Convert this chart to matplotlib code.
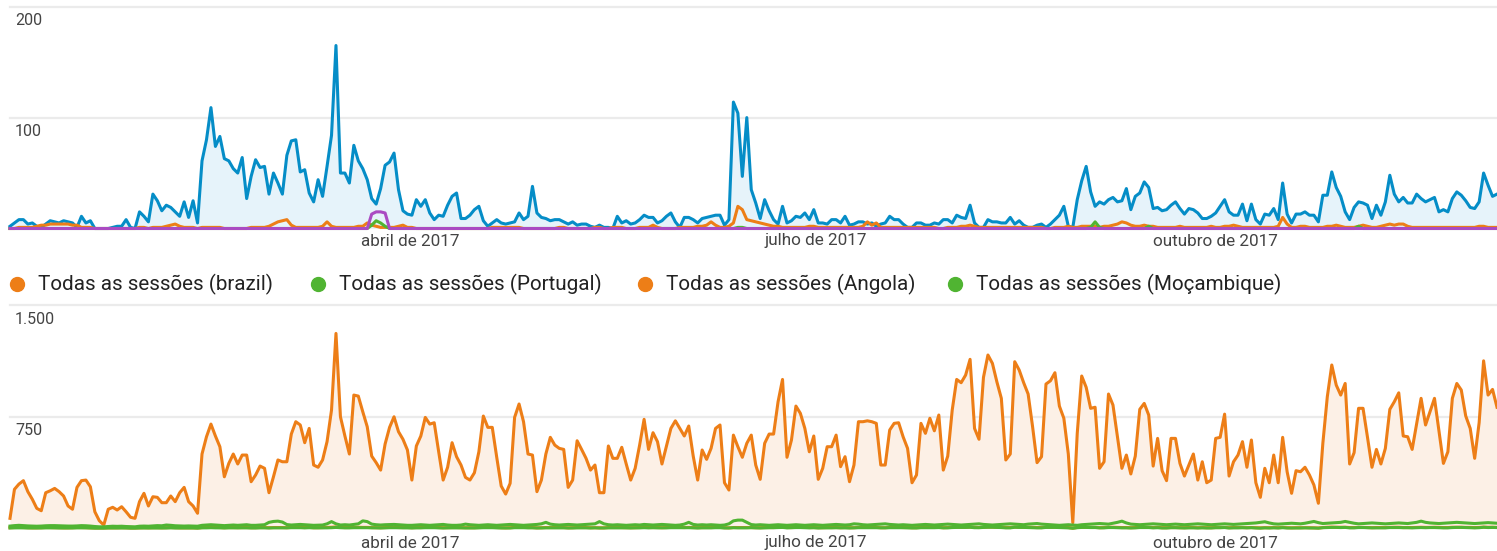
import numpy as np
import pandas as pd
import matplotlib
matplotlib.use('Agg')
import matplotlib.pyplot as plt
from matplotlib.lines import Line2D
from matplotlib.transforms import blended_transform_factory, offset_copy

plt.rcParams['font.family'] = ['Roboto', 'DejaVu Sans']

dates = pd.date_range('2017-01-01', periods=334, freq='D')

# ---- top chart (sessions, small property) ----
top_blue = [
    2, 5, 8, 8, 4, 5, 2, 1, 4, 7,
    6, 5, 7, 6, 5, 1, 11, 5, 7, 0,
    0, 0, 0, 1, 2, 2, 8, 1, 0, 15,
    11, 6, 31, 25, 16, 21, 19, 15, 11, 24,
    10, 25, 5, 61, 80, 109, 74, 83, 63, 61,
    54, 50, 64, 27, 47, 62, 55, 56, 31, 50,
    41, 31, 66, 79, 80, 51, 53, 32, 24, 44,
    29, 56, 84, 165, 50, 50, 41, 75, 61, 54,
    44, 27, 22, 36, 57, 60, 68, 35, 16, 13,
    12, 26, 20, 26, 14, 8, 12, 11, 21, 29,
    32, 9, 9, 12, 17, 20, 7, 2, 5, 8,
    5, 4, 5, 6, 14, 8, 11, 38, 14, 10,
    9, 7, 8, 8, 6, 4, 6, 3, 4, 4,
    2, 1, 3, 1, 1, 0, 11, 5, 7, 4,
    5, 8, 12, 10, 10, 5, 7, 11, 14, 6,
    1, 10, 10, 8, 5, 9, 10, 11, 12, 12,
    3, 8, 114, 104, 47, 100, 35, 23, 9, 26,
    16, 8, 4, 20, 5, 7, 11, 10, 14, 8,
    17, 5, 5, 4, 8, 8, 5, 11, 3, 4,
    6, 6, 4, 5, 2, 4, 5, 11, 8, 8,
    4, 1, 1, 5, 5, 3, 3, 5, 4, 8,
    8, 5, 12, 10, 9, 21, 5, 1, 1, 8,
    6, 6, 5, 5, 10, 4, 7, 3, 1, 1,
    3, 4, 1, 4, 8, 12, 20, 2, 1, 26,
    43, 56, 33, 20, 24, 22, 26, 28, 24, 25,
    36, 17, 29, 32, 42, 37, 18, 19, 16, 17,
    21, 24, 18, 13, 18, 17, 14, 9, 9, 11,
    14, 20, 26, 15, 12, 12, 22, 7, 22, 8,
    4, 13, 12, 18, 8, 41, 13, 5, 13, 13,
    15, 12, 12, 6, 30, 30, 51, 37, 29, 15,
    8, 19, 24, 23, 21, 9, 21, 12, 24, 48,
    31, 24, 28, 23, 23, 31, 27, 24, 26, 28,
    15, 17, 15, 27, 33, 30, 25, 19, 18, 24,
    50, 39, 29, 31,
]
top_orange = [
    0, 0, 1, 1, 1, 1, 2, 3, 3, 4,
    4, 4, 4, 4, 3, 3, 1, 1, 1, 0,
    0, 0, 0, 0, 0, 0, 0, 0, 0, 1,
    1, 0, 1, 1, 1, 2, 3, 4, 2, 1,
    1, 1, 0, 1, 1, 1, 1, 1, 0, 0,
    0, 0, 0, 0, 1, 1, 1, 1, 2, 4,
    6, 7, 8, 3, 1, 1, 1, 1, 1, 1,
    2, 6, 2, 1, 1, 1, 1, 1, 2, 2,
    5, 3, 2, 1, 1, 1, 1, 2, 3, 1,
    1, 0, 0, 0, 0, 0, 0, 0, 0, 0,
    0, 0, 0, 0, 0, 0, 0, 0, 1, 1,
    1, 1, 1, 1, 1, 0, 0, 0, 0, 0,
    0, 0, 0, 1, 1, 0, 0, 0, 0, 0,
    0, 1, 1, 0, 0, 1, 1, 1, 0, 0,
    0, 1, 1, 1, 3, 1, 0, 0, 0, 0,
    1, 1, 1, 1, 2, 2, 3, 6, 3, 1,
    1, 2, 5, 20, 17, 8, 7, 6, 5, 4,
    3, 2, 2, 1, 1, 1, 1, 1, 1, 2,
    2, 1, 1, 1, 1, 1, 1, 1, 1, 1,
    1, 2, 6, 3, 5, 1, 1, 1, 1, 1,
    1, 1, 1, 1, 1, 1, 1, 1, 0, 0,
    1, 1, 1, 2, 2, 3, 2, 1, 1, 1,
    1, 1, 1, 1, 1, 1, 1, 1, 1, 1,
    1, 1, 0, 0, 1, 1, 1, 2, 1, 1,
    2, 2, 2, 2, 1, 2, 2, 3, 4, 6,
    5, 3, 2, 2, 3, 2, 2, 1, 1, 1,
    1, 1, 2, 1, 1, 1, 1, 1, 1, 2,
    1, 1, 2, 2, 3, 2, 1, 1, 1, 1,
    1, 1, 1, 1, 2, 10, 4, 1, 1, 2,
    2, 1, 1, 1, 1, 2, 2, 3, 2, 1,
    1, 1, 2, 3, 2, 1, 1, 2, 3, 4,
    3, 4, 4, 2, 1, 1, 1, 1, 1, 1,
    1, 1, 1, 1, 1, 1, 1, 1, 1, 2,
    2, 1, 1, 1,
]
top_green = [
    0, 0, 0, 0, 0, 0, 0, 0, 0, 0,
    0, 0, 0, 0, 0, 0, 0, 0, 0, 0,
    0, 0, 0, 0, 0, 0, 0, 0, 0, 0,
    0, 0, 0, 0, 0, 0, 0, 0, 0, 0,
    0, 0, 0, 0, 0, 0, 0, 0, 0, 0,
    0, 0, 0, 0, 0, 0, 0, 0, 0, 0,
    0, 0, 0, 0, 0, 0, 0, 0, 0, 0,
    0, 0, 0, 0, 0, 0, 0, 0, 0, 0,
    0, 3, 7, 5, 2, 0, 0, 0, 0, 0,
    0, 0, 0, 0, 0, 0, 0, 0, 0, 0,
    0, 0, 0, 0, 0, 0, 0, 0, 0, 0,
    0, 0, 0, 0, 0, 0, 0, 0, 0, 0,
    0, 0, 0, 0, 0, 0, 0, 0, 0, 0,
    0, 0, 0, 0, 0, 0, 0, 0, 0, 0,
    0, 0, 0, 0, 0, 0, 0, 0, 0, 0,
    0, 0, 0, 0, 0, 0, 0, 0, 0, 0,
    0, 0, 0, 1, 1, 0, 0, 0, 0, 0,
    0, 0, 0, 0, 0, 0, 0, 0, 0, 0,
    0, 0, 0, 0, 0, 0, 0, 0, 0, 0,
    0, 0, 0, 0, 0, 0, 0, 0, 0, 0,
    0, 0, 0, 0, 0, 0, 0, 0, 0, 0,
    0, 0, 0, 0, 0, 0, 0, 0, 0, 0,
    0, 0, 0, 0, 0, 0, 0, 0, 0, 0,
    0, 0, 0, 0, 0, 0, 0, 0, 0, 0,
    0, 0, 1, 6, 1, 0, 0, 0, 0, 0,
    0, 0, 0, 0, 0, 2, 0, 0, 0, 0,
    0, 0, 0, 0, 0, 0, 0, 0, 0, 0,
    0, 0, 0, 0, 0, 0, 0, 0, 0, 0,
    0, 0, 0, 0, 0, 0, 0, 0, 0, 0,
    0, 0, 0, 0, 0, 0, 0, 0, 0, 0,
    0, 0, 2, 0, 0, 0, 0, 0, 0, 0,
    0, 0, 0, 0, 0, 0, 0, 0, 0, 0,
    0, 0, 0, 0, 0, 0, 0, 0, 0, 0,
    0, 0, 0, 0,
]
top_purple = [
    0, 0, 0, 0, 0, 0, 0, 0, 0, 0,
    0, 0, 0, 0, 0, 0, 0, 0, 0, 0,
    0, 0, 0, 0, 0, 0, 0, 0, 0, 0,
    0, 0, 0, 0, 0, 0, 0, 0, 0, 0,
    0, 0, 0, 0, 0, 0, 0, 0, 0, 0,
    0, 0, 0, 0, 0, 0, 0, 0, 0, 0,
    0, 0, 0, 0, 0, 0, 0, 0, 0, 0,
    0, 0, 0, 0, 0, 0, 0, 0, 0, 0,
    0, 13, 15, 15, 14, 0, 0, 0, 0, 0,
    0, 0, 0, 0, 0, 0, 0, 0, 0, 0,
    0, 0, 0, 0, 0, 0, 0, 0, 0, 0,
    0, 0, 0, 0, 0, 0, 0, 0, 0, 0,
    0, 0, 0, 0, 0, 0, 0, 0, 0, 0,
    0, 0, 0, 0, 0, 0, 0, 0, 0, 0,
    0, 0, 0, 0, 0, 0, 0, 0, 0, 0,
    0, 0, 0, 0, 0, 0, 0, 0, 0, 0,
    0, 0, 0, 0, 0, 0, 0, 0, 0, 0,
    0, 0, 0, 0, 0, 0, 0, 0, 0, 0,
    0, 0, 0, 0, 0, 0, 0, 0, 0, 0,
    0, 0, 0, 0, 0, 0, 0, 0, 0, 0,
    0, 0, 0, 0, 0, 0, 0, 0, 0, 0,
    0, 0, 0, 0, 0, 0, 0, 0, 0, 0,
    0, 0, 0, 0, 0, 0, 0, 0, 0, 0,
    0, 0, 0, 0, 0, 0, 0, 0, 0, 0,
    0, 0, 0, 0, 0, 0, 0, 0, 0, 0,
    0, 0, 0, 0, 0, 0, 0, 0, 0, 0,
    0, 0, 0, 0, 0, 0, 0, 0, 0, 0,
    0, 0, 0, 0, 0, 0, 0, 0, 0, 0,
    0, 0, 0, 0, 0, 0, 0, 0, 0, 0,
    0, 0, 0, 0, 0, 0, 0, 0, 0, 0,
    0, 0, 0, 0, 0, 0, 0, 0, 0, 0,
    0, 0, 0, 0, 0, 0, 0, 0, 0, 0,
    0, 0, 0, 0, 0, 0, 0, 0, 0, 0,
    0, 0, 0, 0,
]

# ---- bottom chart: "Todas as sessões" per country ----
brazil = [
    67, 262, 297, 320, 246, 195, 134, 118, 239, 252,
    268, 246, 217, 150, 128, 275, 320, 324, 279, 111,
    51, 22, 128, 141, 123, 145, 111, 74, 67, 179,
    235, 150, 212, 208, 172, 172, 217, 179, 239, 275,
    179, 150, 101, 499, 615, 700, 620, 548, 346, 436,
    499, 432, 492, 492, 313, 358, 418, 403, 239, 346,
    459, 447, 447, 633, 716, 694, 575, 671, 425, 410,
    459, 582, 794, 1309, 749, 620, 499, 895, 888, 783,
    682, 485, 441, 391, 566, 678, 749, 649, 598, 526,
    324, 553, 620, 745, 700, 709, 514, 324, 410, 575,
    481, 425, 342, 324, 373, 514, 754, 678, 678, 477,
    284, 230, 302, 745, 835, 716, 499, 492, 246, 324,
    499, 611, 559, 537, 530, 275, 324, 588, 530, 470,
    391, 425, 239, 239, 553, 470, 470, 544, 432, 324,
    403, 559, 732, 530, 642, 582, 432, 553, 671, 722,
    671, 620, 687, 485, 324, 526, 463, 537, 671, 694,
    306, 257, 626, 548, 477, 571, 626, 425, 329, 571,
    633, 633, 850, 1000, 477, 593, 821, 772, 671, 514,
    620, 329, 403, 548, 548, 626, 414, 481, 313, 425,
    716, 716, 722, 716, 705, 425, 425, 660, 705, 709,
    615, 537, 306, 358, 705, 638, 739, 655, 761, 391,
    485, 794, 1000, 978, 1029, 1135, 671, 598, 1014, 1164,
    1108, 984, 873, 459, 499, 1119, 1063, 978, 902, 682,
    441, 481, 969, 991, 1045, 821, 739, 499, 38, 638,
    1023, 947, 806, 813, 403, 447, 902, 828, 615, 403,
    492, 365, 485, 799, 839, 761, 418, 604, 387, 320,
    604, 604, 436, 351, 425, 499, 324, 447, 306, 324,
    604, 611, 767, 351, 447, 492, 582, 410, 593, 306,
    208, 403, 306, 492, 306, 611, 380, 235, 387, 380,
    410, 358, 291, 168, 571, 884, 1097, 962, 895, 973,
    432, 508, 806, 806, 611, 410, 530, 432, 537, 799,
    850, 910, 620, 615, 530, 700, 873, 694, 783, 873,
    655, 436, 514, 873, 973, 929, 754, 671, 470, 709,
    1125, 895, 933, 813,
]
portugal = [
    15, 18, 20, 18, 16, 15, 14, 15, 17, 18,
    18, 17, 16, 15, 15, 16, 18, 17, 15, 12,
    10, 10, 12, 14, 13, 14, 12, 11, 10, 14,
    15, 14, 16, 18, 17, 22, 20, 17, 16, 15,
    16, 15, 14, 20, 22, 24, 22, 20, 18, 20,
    22, 20, 22, 24, 20, 20, 22, 24, 40, 46,
    48, 42, 25, 22, 24, 26, 24, 22, 20, 21,
    22, 30, 45, 30, 22, 24, 22, 26, 30, 50,
    45, 28, 24, 22, 24, 25, 26, 24, 22, 20,
    20, 22, 24, 22, 20, 22, 24, 26, 22, 20,
    20, 22, 28, 24, 22, 20, 22, 24, 22, 20,
    22, 24, 26, 24, 22, 20, 22, 24, 26, 30,
    40, 28, 24, 22, 24, 26, 24, 22, 24, 26,
    28, 30, 45, 30, 24, 22, 24, 22, 20, 22,
    24, 22, 26, 24, 22, 24, 26, 24, 22, 20,
    22, 28, 40, 26, 22, 24, 22, 24, 22, 20,
    22, 30, 50, 55, 55, 40, 25, 22, 24, 22,
    20, 22, 24, 22, 20, 22, 24, 22, 20, 22,
    24, 22, 20, 22, 24, 26, 24, 22, 24, 30,
    28, 24, 22, 24, 26, 28, 30, 26, 24, 22,
    24, 22, 20, 22, 24, 26, 24, 22, 24, 26,
    28, 26, 24, 22, 24, 26, 28, 30, 26, 24,
    22, 24, 26, 28, 30, 28, 26, 24, 28, 30,
    32, 28, 26, 24, 22, 20, 22, 24, 22, 20,
    24, 26, 28, 30, 32, 30, 28, 34, 40, 48,
    36, 28, 26, 24, 26, 28, 30, 28, 26, 24,
    26, 28, 26, 24, 26, 28, 30, 28, 26, 24,
    26, 28, 30, 28, 26, 28, 30, 32, 34, 36,
    40, 44, 36, 30, 28, 30, 32, 34, 32, 30,
    34, 40, 46, 38, 32, 34, 36, 38, 40, 46,
    40, 34, 30, 32, 34, 36, 34, 32, 30, 32,
    34, 36, 34, 32, 36, 40, 48, 40, 36, 34,
    32, 34, 36, 38, 40, 38, 36, 34, 32, 34,
    36, 38, 36, 34,
]
angola = [
    4, 5, 6, 5, 4, 3, 3, 4, 5, 5,
    4, 4, 3, 3, 4, 5, 5, 4, 3, 2,
    2, 2, 3, 3, 3, 4, 3, 2, 2, 3,
    4, 3, 4, 4, 3, 4, 5, 4, 3, 3,
    3, 3, 2, 5, 6, 7, 6, 5, 4, 5,
    5, 4, 5, 5, 4, 4, 5, 5, 4, 5,
    5, 5, 4, 6, 7, 6, 5, 6, 4, 4,
    5, 6, 7, 9, 6, 5, 5, 7, 7, 6,
    6, 5, 4, 4, 5, 6, 6, 5, 5, 5,
    4, 5, 5, 6, 6, 6, 5, 4, 4, 5,
    5, 4, 4, 4, 4, 5, 6, 6, 6, 5,
    4, 3, 4, 6, 6, 6, 5, 5, 3, 4,
    5, 5, 5, 5, 5, 3, 4, 5, 5, 5,
    4, 4, 3, 3, 5, 5, 5, 5, 4, 4,
    4, 5, 6, 5, 5, 5, 4, 5, 6, 6,
    6, 5, 6, 5, 4, 5, 5, 5, 6, 6,
    4, 3, 5, 5, 5, 5, 5, 4, 4, 5,
    5, 5, 6, 7, 5, 5, 6, 6, 6, 5,
    5, 4, 4, 5, 5, 5, 4, 5, 4, 4,
    6, 6, 6, 6, 6, 4, 4, 6, 6, 6,
    5, 5, 4, 4, 6, 6, 6, 6, 6, 4,
    5, 6, 7, 7, 7, 8, 6, 5, 7, 8,
    8, 7, 7, 5, 5, 8, 8, 7, 7, 6,
    5, 5, 7, 7, 8, 6, 6, 5, 1, 6,
    7, 7, 6, 6, 4, 5, 7, 7, 6, 5,
    5, 4, 5, 6, 7, 6, 5, 6, 4, 4,
    5, 5, 4, 4, 5, 5, 4, 5, 4, 4,
    5, 5, 6, 4, 5, 5, 5, 4, 5, 4,
    3, 4, 4, 5, 4, 6, 4, 3, 4, 4,
    4, 4, 3, 2, 5, 7, 8, 7, 7, 7,
    5, 5, 6, 6, 5, 4, 5, 5, 5, 6,
    7, 7, 5, 5, 5, 6, 7, 6, 6, 7,
    6, 5, 5, 7, 7, 7, 6, 6, 5, 6,
    8, 7, 7, 6,
]
mocambique = [
    2, 3, 3, 3, 2, 2, 2, 2, 3, 3,
    3, 2, 2, 2, 2, 3, 3, 3, 2, 1,
    1, 1, 2, 2, 2, 2, 2, 1, 1, 2,
    2, 2, 2, 2, 2, 2, 3, 2, 2, 2,
    2, 2, 1, 3, 3, 4, 3, 3, 2, 3,
    3, 3, 3, 3, 2, 2, 3, 3, 2, 3,
    3, 3, 3, 4, 4, 4, 3, 4, 3, 3,
    3, 3, 4, 6, 4, 3, 3, 4, 4, 4,
    4, 3, 3, 2, 3, 4, 4, 4, 3, 3,
    2, 3, 3, 4, 4, 4, 3, 2, 3, 3,
    3, 3, 2, 2, 2, 3, 4, 4, 4, 3,
    2, 2, 2, 4, 4, 4, 3, 3, 2, 2,
    3, 3, 3, 3, 3, 2, 2, 3, 3, 3,
    2, 3, 2, 2, 3, 3, 3, 3, 3, 2,
    3, 3, 4, 3, 4, 3, 3, 3, 4, 4,
    4, 4, 4, 3, 2, 3, 3, 3, 4, 4,
    2, 2, 4, 3, 3, 3, 4, 3, 2, 3,
    4, 4, 5, 6, 3, 4, 5, 5, 4, 3,
    4, 2, 3, 3, 3, 4, 3, 3, 2, 3,
    4, 4, 4, 4, 4, 3, 3, 4, 4, 4,
    4, 3, 2, 2, 4, 4, 4, 4, 5, 3,
    3, 5, 6, 6, 6, 7, 4, 4, 6, 7,
    7, 6, 5, 3, 3, 7, 6, 6, 5, 4,
    3, 3, 6, 6, 6, 5, 4, 3, 0, 4,
    6, 6, 5, 5, 3, 3, 5, 5, 4, 3,
    3, 2, 3, 5, 5, 5, 3, 4, 2, 2,
    4, 4, 3, 2, 3, 3, 2, 3, 2, 2,
    4, 4, 5, 2, 3, 3, 4, 3, 4, 2,
    1, 3, 2, 3, 2, 4, 2, 2, 2, 2,
    3, 2, 2, 1, 4, 5, 6, 6, 5, 6,
    3, 3, 5, 5, 4, 3, 3, 3, 3, 5,
    5, 5, 4, 4, 3, 4, 5, 4, 5, 5,
    4, 3, 3, 5, 6, 6, 5, 4, 3, 4,
    7, 5, 6, 5,
]

legend_labels = ['Todas as sessões (brazil)', 'Todas as sessões (Portugal)',
                 'Todas as sessões (Angola)', 'Todas as sessões (Moçambique)']
month_labels = ['abril de 2017', 'julho de 2017', 'outubro de 2017']
month_label_dates = ['2017-03-31 14:00', '2017-06-30 12:00', '2017-09-27 21:00']
top_grid = [100, 200]
top_grid_labels = ['100', '200']
bottom_grid = [750, 1500]
bottom_grid_labels = ['750', '1.500']

BLUE = '#058dc7'
BLUE_FILL = '#e6f3fa'
ORANGE = '#ed7e17'
ORANGE_FILL = '#fcf0e6'
GREEN = '#50b432'
PURPLE = '#aa4bc2'
GRID = '#ebebeb'

W, H = 1497, 551
fig = plt.figure(figsize=(W / 100, H / 100), dpi=100)
fig.patch.set_facecolor('white')

ax1 = fig.add_axes([10 / W, 1 - 228.5 / H, 1 - 10 / W, (228.5 - 6.7) / H])
ax2 = fig.add_axes([10 / W, 1 - 528.3 / H, 1 - 10 / W, (528.3 - 305.0) / H])

n = len(dates)
x = dates[:n]

def style(ax, ymax, grid, grid_labels):
    ax.set_xlim(x[0], x[-1])
    ax.set_ylim(0, ymax)
    for s in ax.spines.values():
        s.set_visible(False)
    ax.set_xticks([])
    ax.set_yticks([])
    ax.patch.set_alpha(0)
    for g in grid:
        ax.axhline(g, color=GRID, lw=1.6, zorder=0, clip_on=False)
    tr = blended_transform_factory(fig.transFigure, ax.transData)
    tr = offset_copy(tr, fig=fig, y=-14, units='dots')
    for g, lab in zip(grid, grid_labels):
        ax.text(15 / W, g, lab, transform=tr, ha='left', va='center',
                fontsize=11.5, color='#444444')

style(ax1, 200, top_grid, top_grid_labels)
style(ax2, 1500, bottom_grid, bottom_grid_labels)

lw = 2.2
# top chart
ax1.fill_between(x, top_blue[:n], 0, color=BLUE_FILL, lw=0, zorder=1)
ax1.plot(x, top_blue[:n], color=BLUE, lw=lw, zorder=3, clip_on=False)
ax1.plot(x, top_orange[:n], color=ORANGE, lw=lw, zorder=4, clip_on=False)
ax1.plot(x, top_green[:n], color=GREEN, lw=lw, zorder=5, clip_on=False)
ax1.plot(x, top_purple[:n], color=PURPLE, lw=lw, zorder=6, clip_on=False)

# bottom chart
ax2.fill_between(x, brazil[:n], 0, color=ORANGE_FILL, lw=0, zorder=1)
ax2.plot(x, brazil[:n], color=ORANGE, lw=lw, zorder=3, clip_on=False)
ax2.plot(x, angola[:n], color=ORANGE, lw=lw, zorder=4, clip_on=False)
ax2.plot(x, mocambique[:n], color=GREEN, lw=lw, zorder=5, clip_on=False)
ax2.plot(x, portugal[:n], color=GREEN, lw=lw, zorder=6, clip_on=False)

# month labels
for ax, ypix in [(ax1, 241), (ax2, 543)]:
    tr = blended_transform_factory(ax.transData, fig.transFigure)
    for d, lab in zip(pd.to_datetime(month_label_dates), month_labels):
        ax.text(d, 1 - ypix / H, lab, transform=tr, ha='center', va='center',
                fontsize=12.3, color='#444444')

# legend
legend_colors = [ORANGE, GREEN, ORANGE, GREEN]
dot_x = [17, 318, 645, 955]
ylg = 1 - 284 / H
for lab, col, dx in zip(legend_labels, legend_colors, dot_x):
    fig.add_artist(Line2D([dx / W], [ylg], marker='o', markersize=10, color=col,
                          linestyle='none', transform=fig.transFigure))
    fig.text((dx + 21) / W, ylg, lab, ha='left', va='center', fontsize=14.9, color='#222222')

fig.savefig('out.png', dpi=100, facecolor='white')
